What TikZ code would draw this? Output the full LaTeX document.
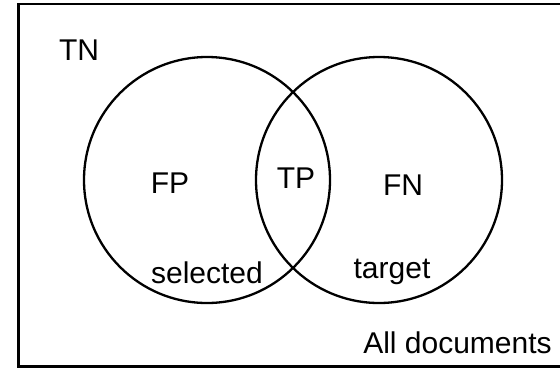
\documentclass[tikz,border=0pt]{standalone}
\usepackage{fontspec}
\setmainfont{Liberation Sans}
\begin{document}
\begin{tikzpicture}[x=1pt,y=-1pt,
  setcircle/.style={circle,draw,line width=2.3pt,minimum size=246pt,inner sep=0pt},
  lbl/.style={anchor=base,inner sep=0pt,font=\fontsize{30pt}{36pt}\selectfont}]
  \useasboundingbox (0,0) rectangle (560,368);
  % universe of documents (right edge runs past the page)
  \draw[line width=2.5pt] (600,4) -- (18.5,4) -- (18.5,366.5) -- (600,366.5);
  % the two sets
  \node[setcircle] (sel) at (207,180) {};
  \node[setcircle] (tgt) at (379,180) {};
  % labels
  \node[lbl] (tn) at (79,60) {TN};
  \node[lbl] (fp) at (170,193) {FP};
  \node[lbl] (tp) at (296,188) {TP};
  \node[lbl] (fn) at (403,195) {FN};
  \node[lbl] (selected) at (207,283) {selected};
  \node[lbl] (target) at (392,278) {target};
  \node[lbl] (all) at (457.5,353) {All documents};
\end{tikzpicture}
\end{document}
